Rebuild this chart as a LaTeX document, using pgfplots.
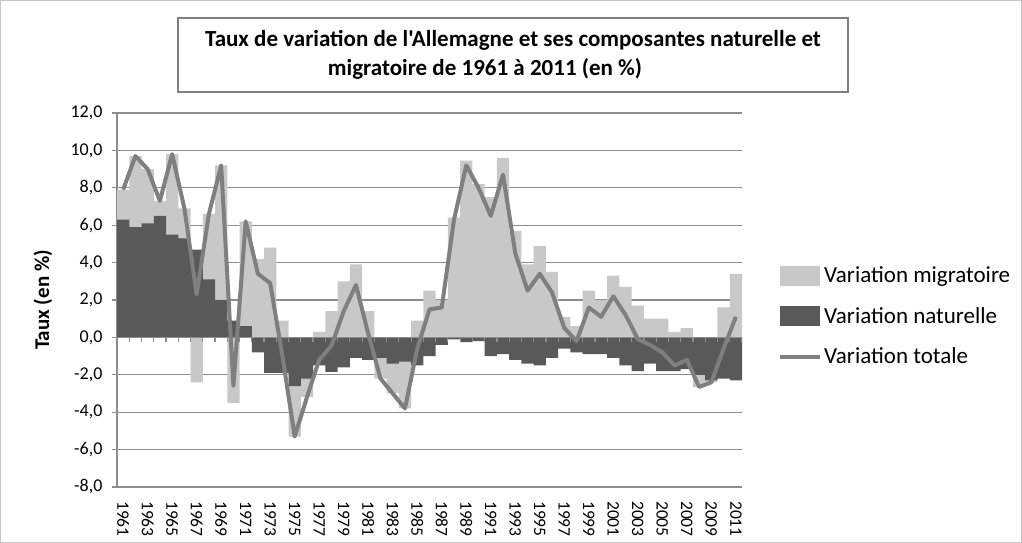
\documentclass[border=0pt]{standalone}
\usepackage{fontspec}
\setmainfont{Carlito}[Ligatures=TeXOff]
\usepackage{pgfplots}
\pgfplotsset{compat=1.18}
\usepackage{pgfplotstable}
\definecolor{migr}{HTML}{C8C8C8}
\definecolor{natu}{HTML}{595959}
\definecolor{tota}{HTML}{7F7F7F}
\definecolor{gridc}{HTML}{8C8C8C}

% year, natural rate, migratory rate
\pgfplotstableread{
year nat mig
1961 6.3 1.6
1962 5.9 3.8
1963 6.1 2.9
1964 6.5 0.8
1965 5.5 4.3
1966 5.3 1.6
1967 4.7 -2.4
1968 3.1 3.5
1969 2.0 7.2
1970 0.9 -3.5
1971 0.6 5.6
1972 -0.8 4.2
1973 -1.9 4.8
1974 -1.9 0.9
1975 -2.6 -2.7
1976 -2.2 -1.0
1977 -1.5 0.3
1978 -1.85 1.4
1979 -1.6 3.0
1980 -1.1 3.9
1981 -1.2 1.4
1982 -1.1 -1.1
1983 -1.4 -1.6
1984 -1.3 -2.5
1985 -1.5 0.9
1986 -1.0 2.5
1987 -0.4 2.0
1988 -0.1 6.4
1989 -0.25 9.45
1990 -0.2 8.2
1991 -1.0 7.5
1992 -0.9 9.6
1993 -1.2 5.7
1994 -1.4 3.9
1995 -1.5 4.9
1996 -1.1 3.5
1997 -0.6 1.1
1998 -0.8 0.6
1999 -0.9 2.5
2000 -0.9 2.0
2001 -1.1 3.3
2002 -1.5 2.7
2003 -1.8 1.7
2004 -1.4 1.0
2005 -1.8 1.0
2006 -1.8 0.3
2007 -1.7 0.5
2008 -2.0 -0.65
2009 -2.3 -0.1
2010 -2.2 1.6
2011 -2.3 3.4
}\data

\begin{document}
\begin{tikzpicture}[x=1pt,y=1pt]
\useasboundingbox (0,0) rectangle (1022,543);
\draw[gray!45, line width=0.8pt] (0.5,0.5) rectangle (1021.5,542.5);
\begin{axis}[
  at={(117pt,56pt)}, anchor=south west,
  scale only axis, width=625pt, height=374pt,
  xmin=1960.5, xmax=2011.5, ymin=-8, ymax=12,
  axis y line*=left, axis x line*=bottom,
  axis line style={gridc, line width=1.2pt},
  ytick={-8,-6,...,12},
  xtick={1961,1963,...,2011},
  xticklabels={1961,1963,1965,1967,1969,1971,1973,1975,1977,1979,1981,1983,1985,1987,1989,1991,1993,1995,1997,1999,2001,2003,2005,2007,2009,2011},
  x tick style={draw=none},
  y tick style={gridc, line width=1.2pt},
  tick align=outside, major tick length=5pt,
  ymajorgrids, grid style={gridc, line width=1.2pt},
  xticklabel style={yshift=-9pt, rotate=-90, anchor=west, font=\fontsize{17.5}{17.5}\selectfont, inner sep=0pt},
  yticklabel style={xshift=-6pt, font=\fontsize{18}{18}\selectfont, /pgf/number format/.cd, fixed, fixed zerofill, precision=1, use comma, assume math mode=true},
  legend style={at={(1.0576,0.594)}, anchor=north west, draw=none, fill=none,
    font=\fontsize{23}{26}\selectfont, row sep=19pt, inner sep=0pt},
  legend cell align=left,
]
\addplot[ybar, bar width=1, bar shift=0pt, fill=migr, draw=none,
  legend image code/.code={\fill[migr] (0pt,-10pt) rectangle (40pt,10pt);}]
  table[x=year, y expr={(\thisrow{nat}*\thisrow{mig}>0) ? (\thisrow{nat}+\thisrow{mig}) : \thisrow{mig}}]{\data};
\addlegendentry{Variation migratoire}
\addplot[ybar, bar width=1, bar shift=0pt, fill=natu, draw=none,
  legend image code/.code={\fill[natu] (0pt,-10pt) rectangle (40pt,10pt);}]
  table[x=year, y=nat]{\data};
\addlegendentry{Variation naturelle}
\draw[gridc, line width=1.2pt] (axis cs:1960.5,0) -- (axis cs:2011.5,0);
\pgfplotsinvokeforeach{1960,...,2011}{\draw[gridc, line width=1.2pt] (axis cs:#1.5,0) -- ++(0pt,-5pt);}
\addplot[tota, line width=4pt, line join=round, mark=none, sharp plot,
  legend image code/.code={\draw[tota, line width=4pt] (0pt,0pt) -- (40pt,0pt);}]
  table[x=year, y expr={\thisrow{nat}+\thisrow{mig}}]{\data};
\addlegendentry{Variation totale}
\end{axis}
\node[draw=gray, line width=1.5pt, minimum width=670pt, minimum height=74pt, inner sep=0pt,
  align=center, font=\bfseries\fontsize{23}{29}\selectfont] at (513,488)
  {Taux de variation de l'Allemagne et ses composantes naturelle et\\migratoire de 1961 à 2011 (en \%)\hspace*{56pt}};
\node[rotate=90, font=\bfseries\fontsize{21}{21}\selectfont] at (43,243) {Taux (en \%)};
\end{tikzpicture}
\end{document}
